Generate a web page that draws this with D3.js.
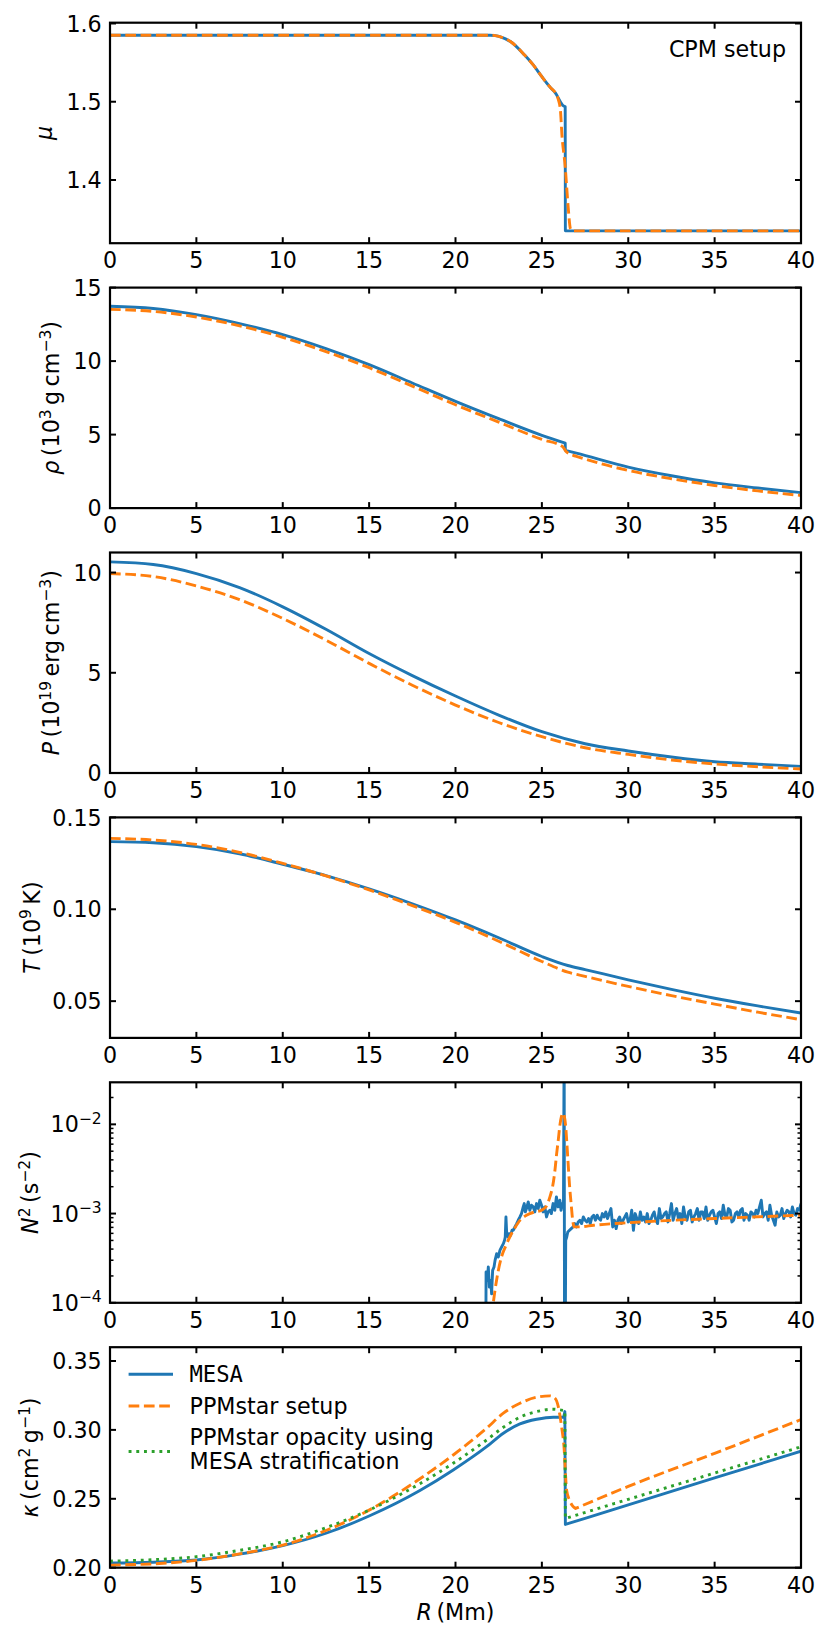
<!DOCTYPE html>
<html><head><meta charset="utf-8">
<script src="https://cdn.jsdelivr.net/npm/d3@7/dist/d3.min.js"></script>
<style>html,body{margin:0;padding:0;background:#fff;} svg{display:block;} text{font-family:"DejaVu Sans",sans-serif;}</style>
</head><body>
<svg id="fig" width="830" height="1642" xmlns="http://www.w3.org/2000/svg"></svg>
<script>
// ---------------- data ----------------
const rTicks = [0,5,10,15,20,25,30,35,40];
const rTickLabels = ["0","5","10","15","20","25","30","35","40"];

// mu
const rMuMesa = [0,20,22,22.3,22.6,23.2,24,24.5,25,25.5,25.8,26.07,26.25,26.35,26.36,40];
const muMesa  = [1.585,1.585,1.585,1.5845,1.583,1.5766,1.5596,1.547,1.532,1.518,1.5107,1.500,1.4946,1.4936,1.335,1.335];
const rMuPPM  = [0,20,22,22.3,22.6,23.2,24,24.5,25,25.5,25.8,25.95,26.07,26.16,26.35,26.52,26.65,26.75,40];
const muPPM   = [1.585,1.585,1.585,1.5845,1.583,1.5766,1.5596,1.547,1.532,1.518,1.5107,1.503,1.49,1.458,1.417,1.366,1.338,1.335,1.335];
const muTicks = [1.4,1.5,1.6];
const muTickLabels = ["1.4","1.5","1.6"];

// rho (1e3 g/cm3)
const rRhoMesa = [0,2.5,5,7.5,10,12.5,15,17.5,20,22.5,25,26.35,26.36,27,30,32.5,35,37.5,40];
const rhoMesa  = [13.73,13.58,13.16,12.55,11.8,10.85,9.76,8.51,7.26,6.08,4.95,4.42,3.93,3.74,2.79,2.2,1.72,1.37,1.05];
const rRhoPPM  = [0,2.5,5,7.5,10,12.5,15,17.5,20,22.5,25,26.2,26.4,26.6,27,30,32.5,35,37.5,40];
const rhoPPM   = [13.52,13.38,13.0,12.4,11.62,10.65,9.55,8.3,7.03,5.85,4.67,4.18,3.85,3.68,3.52,2.56,2.0,1.54,1.17,0.86];
const rhoTicks = [0,5,10,15];
const rhoTickLabels = ["0","5","10","15"];

// P (1e19 erg/cm3)
const rP   = [0,2.5,5,7.5,10,12.5,15,17.5,20,22.5,25,27.5,30,32.5,35,37.5,40];
const pMesa = [10.53,10.4,9.95,9.25,8.29,7.17,5.96,4.86,3.84,2.89,2.06,1.46,1.10,0.80,0.56,0.44,0.33];
const pPPM  = [9.95,9.8,9.33,8.65,7.71,6.63,5.47,4.38,3.39,2.52,1.81,1.26,0.93,0.65,0.45,0.31,0.20];
const pTicks = [0,5,10];
const pTickLabels = ["0","5","10"];

// T (1e9 K)
const rT = [0,2.5,5,7.5,10,12.5,15,17.5,20,22.5,25,26.5,27.5,30,32.5,35,37.5,40];
const tMesa = [0.1368,0.1362,0.1341,0.1302,0.1245,0.1183,0.1111,0.1030,0.0942,0.0845,0.0743,0.0694,0.0672,0.0616,0.0564,0.0516,0.0474,0.0435];
const tPPM  = [0.1386,0.1377,0.1353,0.1310,0.1250,0.1182,0.1105,0.1020,0.0929,0.0826,0.0716,0.0658,0.0635,0.0580,0.0530,0.0484,0.0440,0.0399];
const tTicks = [0.05,0.10,0.15];
const tTickLabels = ["0.05","0.10","0.15"];

// N^2, values in units of 1e-3 s^-2
const N2_UNIT = 1e-3;
const rN2Mesa = [21.73,21.77,21.84,21.90,21.96,22.04,22.09,22.15,22.23,22.29,22.38,22.48,22.57,22.67,22.77,22.84,22.88,22.92,22.96,23.04,
 23.11,23.19,23.27,23.34,23.44,23.54,23.63,23.73,23.82,23.92,23.98,24.04,24.11,24.21,24.30,24.40,24.50,24.59,24.69,24.79,
 24.88,24.98,25.07,25.17,25.27,25.36,25.46,25.55,25.65,25.75,25.84,25.94,26.04,26.11,26.19,26.25,26.29,26.32,26.38,26.44,
 26.5,26.6,26.7,26.8,26.9,27.0,27.1,27.2,27.3,27.4,27.5,27.6,27.7,27.8,27.9,28.0,28.1,28.2,28.3,28.4,28.5,28.6,28.7,28.8,28.9,
 29.0,29.1,29.2,29.3,29.4,29.5,29.6,29.7,29.8,29.9,30.0,30.1,30.2,30.3,30.4,30.5,30.6,30.7,30.8,30.9,
 31.0,31.1,31.2,31.3,31.4,31.5,31.6,31.7,31.8,31.9,32.0,32.1,32.2,32.3,32.4,32.5,32.6,32.7,32.8,32.9,
 33.0,33.1,33.2,33.3,33.4,33.5,33.6,33.7,33.8,33.9,34.0,34.1,34.2,34.3,34.4,34.5,34.6,34.7,34.8,34.9,
 35.0,35.1,35.2,35.3,35.4,35.5,35.6,35.7,35.8,35.9,36.0,36.1,36.2,36.3,36.4,36.5,36.6,36.7,36.8,36.9,
 37.0,37.1,37.2,37.3,37.4,37.5,37.6,37.7,37.8,37.9,38.0,38.1,38.2,38.3,38.4,38.5,38.6,38.7,38.8,38.9,
 39.0,39.1,39.2,39.3,39.4,39.5,39.6,39.7,39.8,39.9,40.0];
const n2Mesa = [0.001,0.221,0.178,0.252,0.150,0.178,0.126,0.231,0.252,0.299,0.355,0.326,0.387,0.422,0.460,0.502,0.547,0.917,0.622,0.547,
 0.596,0.571,0.650,0.650,0.708,0.772,0.842,0.917,1.000,1.188,1.295,1.044,1.138,1.352,1.090,1.241,1.188,1.044,1.295,1.138,
 1.410,1.241,1.044,1.188,0.917,1.044,1.090,1.000,1.295,1.090,1.539,1.188,1.410,1.090,1.295,1.188,100,0.001,0.502,0.547,
 0.622,0.650,0.678,0.708,
 0.772,0.708,0.806,0.842,0.772,0.917,0.842,0.806,0.879,0.772,0.917,0.958,0.842,0.958,0.879,0.842,1.000,0.917,1.044,0.879,1.000,1.138,0.708,0.842,
 0.678,0.842,0.917,0.772,0.842,0.917,1.000,0.806,0.842,1.090,0.650,1.000,0.879,0.772,1.044,0.842,0.917,0.806,1.000,0.772,0.842,0.958,1.044,0.842,
 0.772,1.138,0.879,0.917,1.000,1.044,0.806,1.000,1.295,0.842,1.000,1.138,0.879,1.000,0.772,1.188,0.917,0.842,1.044,1.090,0.806,0.917,1.000,1.138,
 0.842,1.044,1.044,0.879,1.188,0.842,0.958,1.044,1.090,0.917,0.772,1.000,1.044,0.879,1.241,0.958,0.917,1.138,1.090,0.806,0.842,1.000,1.044,0.917,
 1.090,1.138,0.842,1.000,0.958,0.842,1.044,1.000,0.917,1.090,1.000,1.188,1.410,0.917,1.000,1.044,0.842,1.241,0.958,0.842,0.740,1.044,0.917,0.958,
 1.138,0.879,1.000,1.090,1.044,0.917,1.188,1.000,0.958,1.138,1.090,1.295];
const rN2PPM = [22.1,22.19,22.4,22.67,22.9,23.15,23.45,23.73,24.0,24.3,24.65,24.98,25.25,25.47,25.62,25.76,25.85,25.95,26.05,26.13,26.22,26.3,26.38,26.45,26.52,26.6,26.71,26.78,26.86,27.2,28,30,32.5,35,37.5,40];
const n2PPM  = [0.07,0.10,0.19,0.33,0.43,0.55,0.70,0.84,0.93,1.00,1.05,1.09,1.2,1.55,2.0,3.1,4.6,6.7,10.0,12.2,13.3,12.3,9.4,6.0,3.65,2.1,1.19,0.85,0.71,0.71,0.74,0.79,0.84,0.88,0.92,0.96];
const n2Ticks = [1e-4,1e-3,1e-2];
const n2TickExp = ["\u22124","\u22123","\u22122"];

// kappa (cm2/g)
const rKMesa = [0,2.5,5,7.5,10,12.5,15,17.94,19.87,21.8,22.77,23.73,24.7,25.66,26.24,26.33,26.36,30,35,40];
const kMesa  = [0.2034,0.2040,0.2056,0.2098,0.2160,0.2250,0.2375,0.2560,0.2709,0.2878,0.2976,0.3043,0.3077,0.3092,0.3092,0.3133,0.2314,0.2456,0.2651,0.2845];
const rKPPM  = [0,2.5,5,7.5,10,12.5,15,17.94,19.87,21.8,22.77,23.73,24.7,25.47,25.76,25.95,26.14,26.28,26.43,26.6,26.8,26.95,30,35,40];
const kPPM   = [0.2019,0.2028,0.2053,0.2100,0.2164,0.2270,0.2418,0.2645,0.2818,0.3012,0.3121,0.3193,0.3237,0.3247,0.3230,0.3169,0.3024,0.2878,0.2564,0.2490,0.2445,0.2430,0.2590,0.2830,0.3075];
const rKGreen = [0,2.5,5,7.5,10,12.5,15,17.94,19.87,21.8,22.77,23.73,24.7,25.66,26.05,26.33,26.36,30,35,40];
const kGreen  = [0.2048,0.2058,0.2080,0.2126,0.2188,0.2290,0.2418,0.2610,0.2758,0.2927,0.3019,0.3092,0.3133,0.3150,0.3145,0.3140,0.2357,0.2496,0.2687,0.2877];
const kTicks = [0.20,0.25,0.30,0.35];
const kTickLabels = ["0.20","0.25","0.30","0.35"];

const legendLabels = ["MESA","PPMstar setup","PPMstar opacity using","MESA stratification"];

// ---------------- layout / style ----------------
const L = 110, RGT = 801, T0 = 22.7, PITCH = 264.9, PH = 220.5;
const FS = 22.2;
const BLUE = "#1f77b4", ORANGE = "#ff7f0e", GREEN = "#2ca02c";
const LW = 2.9;
const DASH = "10.7,4.6", DOT = "2.9,4.8";

const svg = d3.select("#fig");
svg.append("rect").attr("width",830).attr("height",1642).attr("fill","#fff");
const defs = svg.append("defs");
const x = d3.scaleLinear().domain([0,40]).range([L,RGT]);

function mathText(sel, parts, fs) {
  parts.forEach((p,k) => {
    const t = sel.append("tspan").text(p.t);
    if (p.it) t.attr("font-style","italic");
    if (p.sup) t.attr("font-size", fs*0.7).attr("dy", -0.38*fs);
    else if (k>0 && parts[k-1].sup) t.attr("dy", 0.38*fs);
  });
}

// smooth path, split into separate smooth pieces at vertical jumps and at given break radii
function pathFor(pts, ys, smooth, brk) {
  const line = d3.line().x(d=>x(d[0])).y(d=>ys(d[1])).curve(smooth ? d3.curveMonotoneX : d3.curveLinear);
  if (!smooth) return line(pts);
  const segs = []; let cur = [pts[0]];
  for (let k=1;k<pts.length;k++) {
    if (pts[k][0]-pts[k-1][0] < 0.05) { segs.push(cur); cur=[pts[k]]; }
    else {
      cur.push(pts[k]);
      if (brk && brk.includes(pts[k][0]) && k < pts.length-1) { segs.push(cur); cur=[pts[k]]; }
    }
  }
  segs.push(cur);
  return segs.map((s,j) => { const d = line(s.length>1 ? s : [s[0],s[0]]); return j===0 ? d : "L"+d.slice(1); }).join("");
}

const panels = [
  {domain:[1.3192,1.601], ticks:muTicks, labels:muTickLabels, desc:0.21,
   ylabel:[{t:"\u03bc",it:true}],
   series:[{r:rMuMesa,v:muMesa,c:BLUE,smooth:true},{r:rMuPPM,v:muPPM,c:ORANGE,dash:DASH,smooth:true}]},
  {domain:[0,15], ticks:rhoTicks, labels:rhoTickLabels, desc:0.21,
   ylabel:[{t:"\u03c1",it:true},{t:"\u2009(10"},{t:"3",sup:true},{t:"\u2009g\u2009cm"},{t:"\u22123",sup:true},{t:")"}],
   series:[{r:rRhoMesa,v:rhoMesa,c:BLUE,smooth:true},{r:rRhoPPM,v:rhoPPM,c:ORANGE,dash:DASH,smooth:true}]},
  {domain:[0,11.0], ticks:pTicks, labels:pTickLabels, desc:0.21,
   ylabel:[{t:"P",it:true},{t:"\u2009(10"},{t:"19",sup:true},{t:"\u2009erg\u2009cm"},{t:"\u22123",sup:true},{t:")"}],
   series:[{r:rP,v:pMesa,c:BLUE,smooth:true},{r:rP,v:pPPM,c:ORANGE,dash:DASH,smooth:true}]},
  {domain:[0.030,0.150], ticks:tTicks, labels:tTickLabels, desc:0.13,
   ylabel:[{t:"T",it:true},{t:"\u2009(10"},{t:"9",sup:true},{t:"\u2009K)"}],
   series:[{r:rT,v:tMesa,c:BLUE,smooth:true},{r:rT,v:tPPM,c:ORANGE,dash:DASH,smooth:true}]},
  {domain:[1e-4,0.0296], log:true, ticks:n2Ticks, desc:0.13,
   ylabel:[{t:"N",it:true},{t:"2",sup:true},{t:"\u2009(s"},{t:"\u22122",sup:true},{t:")"}],
   series:[{r:rN2Mesa,v:n2Mesa,k:N2_UNIT,c:BLUE,smooth:false},{r:rN2PPM,v:n2PPM,k:N2_UNIT,c:ORANGE,dash:DASH,smooth:true,brk:[26.86]}]},
  {domain:[0.20,0.36], ticks:kTicks, labels:kTickLabels, desc:0.21,
   ylabel:[{t:"\u03ba",it:true},{t:"\u2009(cm"},{t:"2",sup:true},{t:"\u2009g"},{t:"\u22121",sup:true},{t:")"}],
   series:[{r:rKMesa,v:kMesa,c:BLUE,smooth:true},{r:rKPPM,v:kPPM,c:ORANGE,dash:DASH,smooth:true,brk:[26.95]},{r:rKGreen,v:kGreen,c:GREEN,dash:DOT,smooth:true}]}
];

panels.forEach((cfg,i) => {
  const top = T0 + i*PITCH, bottom = top + PH;
  const y = (cfg.log ? d3.scaleLog() : d3.scaleLinear()).domain(cfg.domain).range([bottom, top]);
  const g = svg.append("g");
  const cid = "clip"+i;
  defs.append("clipPath").attr("id",cid).append("rect").attr("x",L).attr("y",top).attr("width",RGT-L).attr("height",PH);
  const lg = g.append("g").attr("clip-path",`url(#${cid})`);
  cfg.series.forEach(s => {
    const pts = s.r.map((r,k) => [r, s.v[k]*(s.k||1)]);
    lg.append("path").attr("d", pathFor(pts, y, s.smooth, s.brk))
      .attr("fill","none").attr("stroke",s.c).attr("stroke-width",LW)
      .attr("stroke-linejoin","round")
      .attr("stroke-dasharray", s.dash || null);
  });
  // ticks
  const tg = g.append("g").attr("stroke","#000").attr("stroke-width",2);
  rTicks.forEach(v => {
    tg.append("line").attr("x1",x(v)).attr("x2",x(v)).attr("y1",bottom).attr("y2",bottom-6);
    tg.append("line").attr("x1",x(v)).attr("x2",x(v)).attr("y1",top).attr("y2",top+6);
  });
  cfg.ticks.forEach(v => {
    tg.append("line").attr("x1",L).attr("x2",L+6).attr("y1",y(v)).attr("y2",y(v));
    tg.append("line").attr("x1",RGT).attr("x2",RGT-6).attr("y1",y(v)).attr("y2",y(v));
  });
  if (cfg.log) {
    const mg = g.append("g").attr("stroke","#000").attr("stroke-width",1.5);
    [1e-4,1e-3,1e-2].forEach(dec => {
      for (let m=2;m<=9;m++) {
        const v = dec*m;
        if (v > cfg.domain[1]) break;
        mg.append("line").attr("x1",L).attr("x2",L+3.5).attr("y1",y(v)).attr("y2",y(v));
        mg.append("line").attr("x1",RGT).attr("x2",RGT-3.5).attr("y1",y(v)).attr("y2",y(v));
      }
    });
  }
  // frame
  g.append("rect").attr("x",L).attr("y",top).attr("width",RGT-L).attr("height",PH)
    .attr("fill","none").attr("stroke","#000").attr("stroke-width",2.2);
  // x tick labels
  rTicks.forEach((v,k) => {
    g.append("text").attr("x",x(v)).attr("y",bottom+25).attr("text-anchor","middle")
      .attr("font-size",FS).attr("fill","#000").text(rTickLabels[k]);
  });
  // y tick labels
  let minLeft = 1e9;
  cfg.ticks.forEach((v,k) => {
    const t = g.append("text").attr("x",101.7).attr("y",y(v)+8.1).attr("text-anchor","end")
      .attr("font-size",FS).attr("fill","#000");
    if (cfg.log) mathText(t, [{t:"10"},{t:n2TickExp[k],sup:true}], FS);
    else t.text(cfg.labels[k]);
    const w = t.node().getComputedTextLength();
    minLeft = Math.min(minLeft, 101.7 - w);
  });
  // y label
  const lx = minLeft - 9.5 - cfg.desc*FS;
  const yl = g.append("text").attr("transform",`translate(${lx},${(top+bottom)/2}) rotate(-90)`)
    .attr("text-anchor","middle").attr("font-size",FS).attr("fill","#000");
  mathText(yl, cfg.ylabel, FS);
});

// CPM setup annotation
svg.append("text").attr("x",786).attr("y",56.7).attr("text-anchor","end").attr("font-size",FS).text("CPM setup");

// x label
const xl = svg.append("text").attr("x",(L+RGT)/2).attr("y",1620.4).attr("text-anchor","middle").attr("font-size",FS);
mathText(xl, [{t:"R",it:true},{t:"\u2009(Mm)"}], FS);

// legend
const lgd = svg.append("g");
const hx0 = 128.6, hx1 = 173, tx = 189.5;
const rows = [
  {c:BLUE, dash:null, hy:1374.3, texts:[{s:legendLabels[0], y:1382.2, mono:true}]},
  {c:ORANGE, dash:DASH, hy:1406, texts:[{s:legendLabels[1], y:1414}]},
  {c:GREEN, dash:DOT, hy:1451.5, texts:[{s:legendLabels[2], y:1445.3},{s:legendLabels[3], y:1469.4}]}
];
rows.forEach(r => {
  lgd.append("line").attr("x1",hx0).attr("x2",hx1).attr("y1",r.hy).attr("y2",r.hy)
    .attr("stroke",r.c).attr("stroke-width",LW).attr("stroke-dasharray",r.dash);
  r.texts.forEach(t => {
    const e = lgd.append("text").attr("x",tx).attr("y",t.y).attr("font-size",FS).text(t.s);
    if (t.mono) e.style("font-family","'DejaVu Sans Mono',monospace");
  });
});
</script>
</body></html>
